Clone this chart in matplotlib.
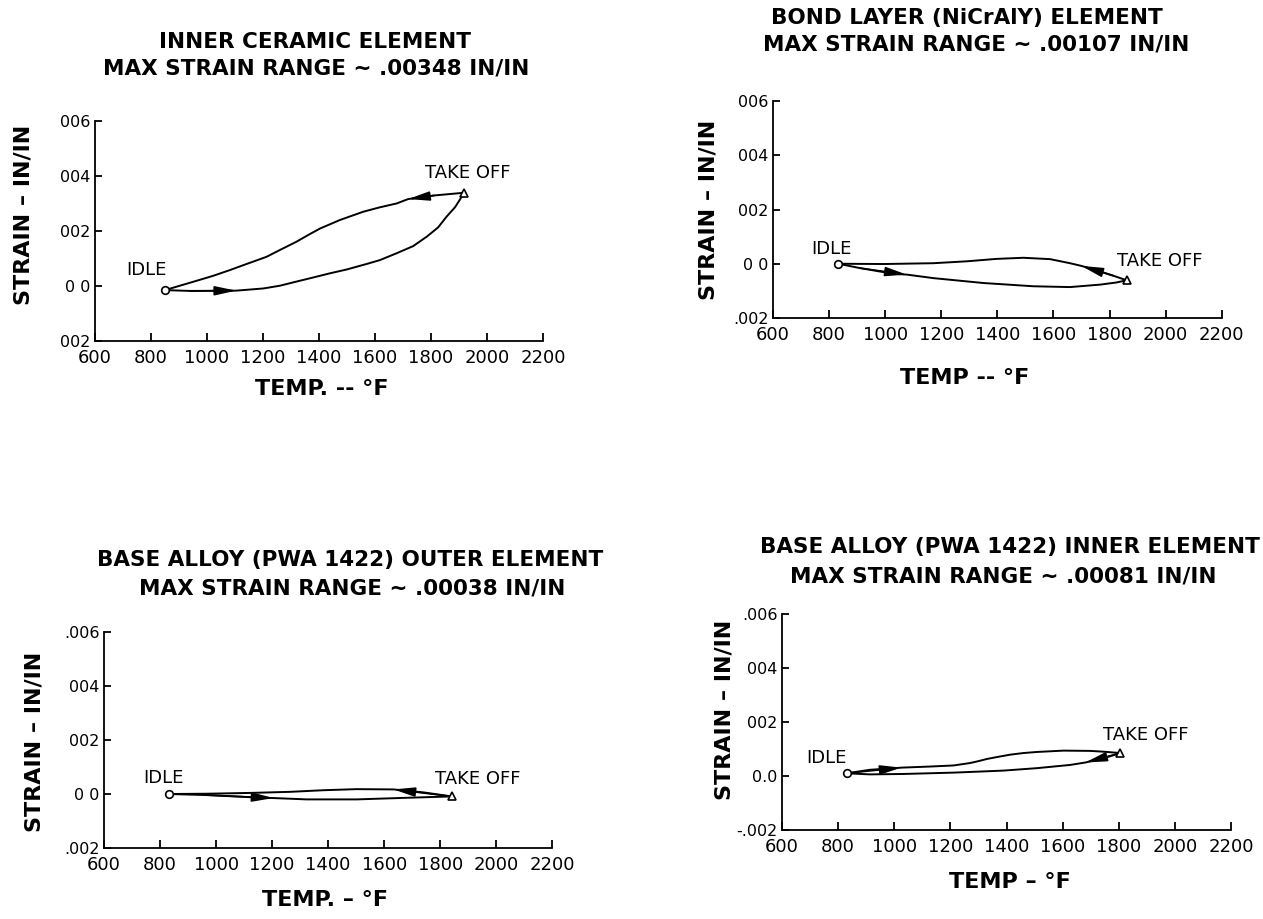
import matplotlib.pyplot as plt

W, H = 1263, 919

temp_ticks = [600, 800, 1000, 1200, 1400, 1600, 1800, 2000, 2200]
strain_ticks = [-0.002, 0.0, 0.002, 0.004, 0.006]

# Inner ceramic element: heating (idle -> take off) and cooling (take off -> idle)
ceramic_heat_t = [851, 940, 1105, 1202, 1261, 1320, 1380, 1439, 1499, 1570, 1617, 1677,
                  1736, 1784, 1825, 1855, 1885, 1902, 1917]
ceramic_heat_s = [-0.00016, -0.00019, -0.00018, -0.0001, 0.0, 0.00015, 0.0003, 0.00045,
                  0.00059, 0.00079, 0.00093, 0.00118, 0.00144, 0.00178, 0.00212, 0.00251,
                  0.00285, 0.00312, 0.00338]
ceramic_cool_t = [1917, 1810, 1718, 1677, 1617, 1558, 1475, 1404, 1368, 1320, 1261, 1213,
                  1142, 1083, 1023, 964, 881, 851]
ceramic_cool_s = [0.00338, 0.00328, 0.00315, 0.00299, 0.00285, 0.00269, 0.00239, 0.00208,
                  0.00188, 0.0016, 0.0013, 0.00105, 0.00079, 0.00057, 0.00036, 0.00018,
                  -0.00007, -0.00016]

# Bond layer (NiCrAlY)
bond_heat_t = [833, 910, 1029, 1077, 1172, 1350, 1528, 1659, 1766, 1825, 1861]
bond_heat_s = [0.0, -0.00016, -0.00037, -0.0004, -0.00053, -0.00071, -0.00083,
               -0.00086, -0.00077, -0.00069, -0.00061]
bond_cool_t = [1861, 1813, 1766, 1730, 1700, 1659, 1588, 1493, 1398, 1291, 1172, 994, 833]
bond_cool_s = [-0.00061, -0.00044, -0.00028, -0.00017, -0.00008, 0.00002, 0.00017,
               0.00022, 0.00018, 0.00009, 0.00002, -0.00001, 0.0]

# Base alloy outer element
outer_heat_t = [832, 967, 1145, 1205, 1324, 1502, 1681, 1841]
outer_heat_s = [0.0, -0.00004, -0.00013, -0.00015, -0.0002, -0.0002, -0.00014, -0.00009]
outer_cool_t = [1841, 1740, 1633, 1502, 1383, 1264, 1121, 967, 832]
outer_cool_s = [-0.00009, 0.00006, 0.00017, 0.00018, 0.00014, 0.00008, 0.00004, 0.00001, 0.0]

# Base alloy inner element
inner_heat_t = [830, 913, 1026, 1127, 1211, 1270, 1300, 1330, 1365, 1413, 1460, 1508,
                1603, 1698, 1746, 1806]
inner_heat_s = [0.0001, 0.00023, 0.00031, 0.00035, 0.00039, 0.00048, 0.00055, 0.00063,
                0.0007, 0.00079, 0.00085, 0.00089, 0.00094, 0.00093, 0.0009, 0.00085]
inner_cool_t = [1806, 1750, 1681, 1627, 1508, 1389, 1211, 1032, 913, 830]
inner_cool_s = [0.00085, 0.00067, 0.0005, 0.00041, 0.00029, 0.0002, 0.000125, 0.000075,
                0.00006, 0.0001]

titles = [
    ("INNER CERAMIC ELEMENT", "MAX STRAIN RANGE ~ .00348 IN/IN"),
    ("BOND LAYER (NiCrAlY) ELEMENT", "MAX STRAIN RANGE ~ .00107 IN/IN"),
    ("BASE ALLOY (PWA 1422) OUTER ELEMENT", "MAX STRAIN RANGE ~ .00038 IN/IN"),
    ("BASE ALLOY (PWA 1422) INNER ELEMENT", "MAX STRAIN RANGE ~ .00081 IN/IN"),
]
xlabels = ["TEMP. -- °F", "TEMP -- °F", "TEMP. – °F", "TEMP – °F"]
ytick_labels = [
    ["002", "0 0", "002", "004", "006"],
    [".002", "0 0", "002", "004", "006"],
    [".002", "0 0", "002", "004", ".006"],
    ["-.002", "0.0", "002", "004", ".006"],
]

curves = [
    (ceramic_heat_t, ceramic_heat_s, ceramic_cool_t, ceramic_cool_s),
    (bond_heat_t, bond_heat_s, bond_cool_t, bond_cool_s),
    (outer_heat_t, outer_heat_s, outer_cool_t, outer_cool_s),
    (inner_heat_t, inner_heat_s, inner_cool_t, inner_cool_s),
]

# layout in pixels: axes box (left, right, top, bottom), title centres, label centres
boxes = [(94.6, 543.3, 120.7, 340.7), (773, 1221.7, 101, 318),
         (104, 552.3, 632, 848), (782, 1231, 614, 830)]
title_pos = [((315, 41.7), (316, 68.3)), ((967, 18), (976, 44)),
             ((350, 560), (352, 588)), ((1010, 547), (1003, 577))]
xlabel_pos = [(322, 389), (965, 378), (325, 900), (1010, 882)]
ylabel_pos = [(24, 215), (708, 210), (35, 742), (725, 710)]
# (arrow tip index, tail index) on heating and cooling branches
heat_arrow = [(2, 1), (3, 1), (3, 1), (2, 0)]
cool_arrow = [(2, 1), (4, 1), (2, 0), (2, 0)]
# IDLE / TAKE OFF label anchors (left, baseline) in data units
idle_txt = [(714, 0.00039), (738, 0.00037), (740, 0.00041), (688, 0.00047)]
takeoff_txt = [(1778, 0.00392), (1826, -0.0001), (1781, 0.00038), (1745, 0.00133)]


def fx(px):
    return px / W


def fy(py):
    return 1 - py / H


def arrow(ax, t, s, tip, tail):
    ax.annotate("", xy=(t[tip], s[tip]), xytext=(t[tail], s[tail]),
                arrowprops=dict(arrowstyle="-|>,head_length=1.3,head_width=0.28",
                                color="black", lw=1.2, shrinkA=0, shrinkB=0,
                                mutation_scale=10))


fig = plt.figure(figsize=(W / 100, H / 100), dpi=100)
fig.patch.set_facecolor("white")

for i in range(4):
    l, r, t, b = boxes[i]
    ax = fig.add_axes([fx(l), fy(b), (r - l) / W, (b - t) / H])
    ht, hs, ct, cs = curves[i]

    ax.plot(ht, hs, color="black", lw=1.4, solid_joinstyle="round")
    ax.plot(ct, cs, color="black", lw=1.4, solid_joinstyle="round")
    arrow(ax, ht, hs, *heat_arrow[i])
    arrow(ax, ct, cs, *cool_arrow[i])
    ax.plot(ht[0], hs[0], "o", ms=5.5, mfc="white", mec="black", mew=1.2, zorder=5)
    ax.plot(ht[-1], hs[-1], "^", ms=6, mfc="white", mec="black", mew=1.2, zorder=5)

    ax.text(*idle_txt[i], "IDLE", fontsize=13, ha="left", va="baseline")
    ax.text(*takeoff_txt[i], "TAKE OFF", fontsize=13, ha="left", va="baseline")

    ax.set_xlim(600, 2200)
    ax.set_ylim(-0.002, 0.006)
    ax.spines[["top", "right"]].set_visible(False)
    for sp in ("left", "bottom"):
        ax.spines[sp].set_linewidth(1.3)
    ax.set_xticks(temp_ticks)
    ax.set_xticklabels([str(v) for v in temp_ticks])
    ax.set_yticks(strain_ticks)
    ax.set_yticklabels(ytick_labels[i])
    ax.tick_params(axis="x", direction="in", length=6, width=1.3, pad=6, labelsize=13)
    ax.tick_params(axis="y", direction="in", length=5, width=1.3, pad=3, labelsize=11.5)
    ax.patch.set_alpha(0)

    (x1, y1), (x2, y2) = title_pos[i]
    fig.text(fx(x1), fy(y1), titles[i][0], fontsize=15.5, fontweight="bold",
             ha="center", va="center")
    fig.text(fx(x2), fy(y2), titles[i][1], fontsize=15.5, fontweight="bold",
             ha="center", va="center")
    fig.text(fx(xlabel_pos[i][0]), fy(xlabel_pos[i][1]), xlabels[i], fontsize=16,
             fontweight="bold", ha="center", va="center")
    fig.text(fx(ylabel_pos[i][0]), fy(ylabel_pos[i][1]), "STRAIN – IN/IN", fontsize=16,
             fontweight="bold", ha="center", va="center", rotation=90)

fig.savefig("out.png", dpi=100, facecolor="white")
